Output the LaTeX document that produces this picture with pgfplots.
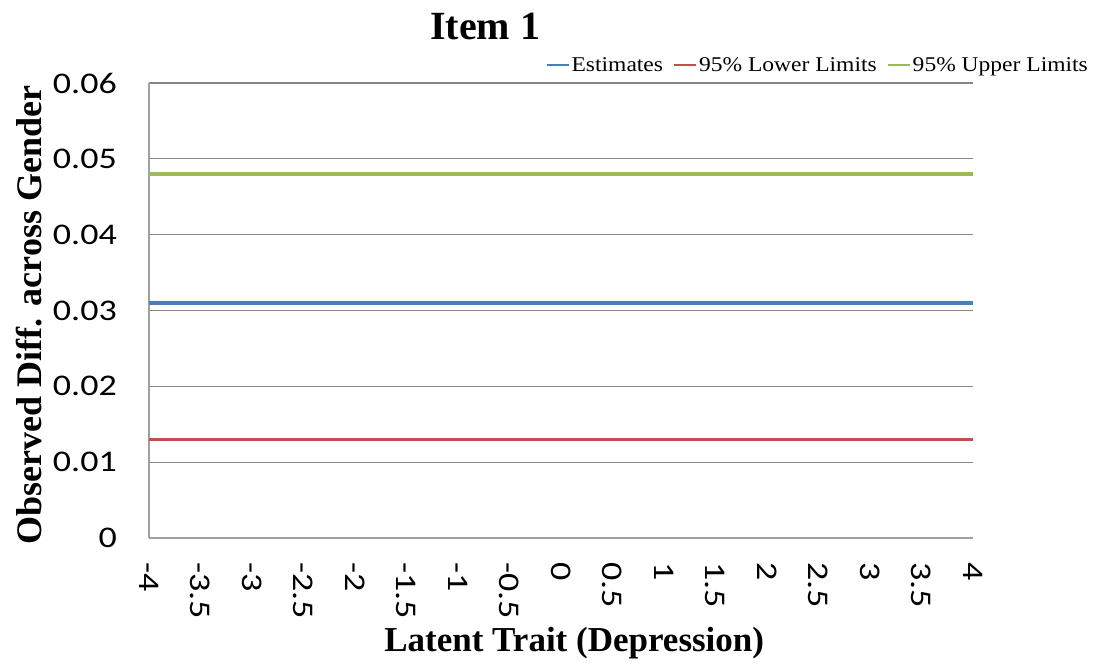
\documentclass[border=0pt]{standalone}
\usepackage{pgfplots}
\pgfplotsset{compat=1.18}
\usepackage{fontspec}
\setmainfont{Liberation Serif}
\newfontfamily\tickfont[FakeStretch=1.2]{Carlito}
\newfontfamily\legfont[FakeStretch=1.12]{Liberation Serif}
\definecolor{cblue}{RGB}{74,126,187}
\definecolor{cred}{RGB}{192,80,77}
\definecolor{cgreen}{RGB}{155,187,89}
\definecolor{cgrid}{RGB}{134,134,134}
\definecolor{caxis}{RGB}{160,160,160}
\begin{document}
\begin{tikzpicture}
\path[use as bounding box] (-149pt,-129pt) rectangle (956pt,538pt);
\begin{axis}[
  at={(0pt,0pt)}, anchor=south west,
  scale only axis, width=824pt, height=455pt,
  xmin=-4, xmax=4, ymin=0, ymax=0.06,
  scaled y ticks=false, scaled x ticks=false,
  axis x line*=bottom, axis y line*=left,
  axis line style={caxis, line width=1.6pt},
  xtick={-4,-3.5,-3,-2.5,-2,-1.5,-1,-0.5,0,0.5,1,1.5,2,2.5,3,3.5,4},
  xticklabels={-4,-3.5,-3,-2.5,-2,-1.5,-1,-0.5,0,0.5,1,1.5,2,2.5,3,3.5,4},
  ytick={0,0.01,0.02,0.03,0.04,0.05,0.06},
  yticklabels={0,0.01,0.02,0.03,0.04,0.05,0.06},
  major tick length=0pt,
  ymajorgrids, grid style={cgrid, line width=1.1pt},
  tick label style={font=\tickfont\fontsize{30}{34}\selectfont, inner sep=0pt},
  xticklabel style={rotate=-90, anchor=west},
  xticklabel shift=24pt,
  yticklabel shift=32pt,
  title={Item 1},
  title style={font=\bfseries\fontsize{40}{44}\selectfont, at={(axis description cs:0.408,1)}, anchor=base, yshift=37pt},
  xlabel={Latent Trait (Depression)},
  xlabel style={font=\bfseries\fontsize{35}{40}\selectfont, at={(axis description cs:0.516,-0.2505)}, anchor=base},
  ylabel={Observed Diff. across Gender},
  ylabel style={font=\bfseries\fontsize{36}{40}\selectfont, at={(axis description cs:-0.146,0.49)}, anchor=center, rotate=0},
  legend style={at={(axis description cs:1.142,1.0)}, anchor=south east, yshift=8pt, draw=none, fill=none,
    font=\legfont\fontsize{21}{24}\selectfont, legend columns=-1, inner sep=0pt,
    /tikz/every even column/.append style={column sep=8pt}},
  legend image code/.code={\draw[#1, line width=2pt] (0pt,0pt) -- (22pt,0pt);},
  clip=false,
]
\addplot[cblue, line width=3.8pt] coordinates {(-4,0.031) (-3,0.031) (-2,0.031) (-1,0.031) (0,0.031) (1,0.031) (2,0.031) (3,0.031) (4,0.031)};
\addlegendentry{Estimates}
\addplot[cred, line width=3.8pt] coordinates {(-4,0.013) (-3,0.013) (-2,0.013) (-1,0.013) (0,0.013) (1,0.013) (2,0.013) (3,0.013) (4,0.013)};
\addlegendentry{95\% Lower Limits}
\addplot[cgreen, line width=3.8pt] coordinates {(-4,0.048) (-3,0.048) (-2,0.048) (-1,0.048) (0,0.048) (1,0.048) (2,0.048) (3,0.048) (4,0.048)};
\addlegendentry{95\% Upper Limits}
\end{axis}
\end{tikzpicture}
\end{document}
